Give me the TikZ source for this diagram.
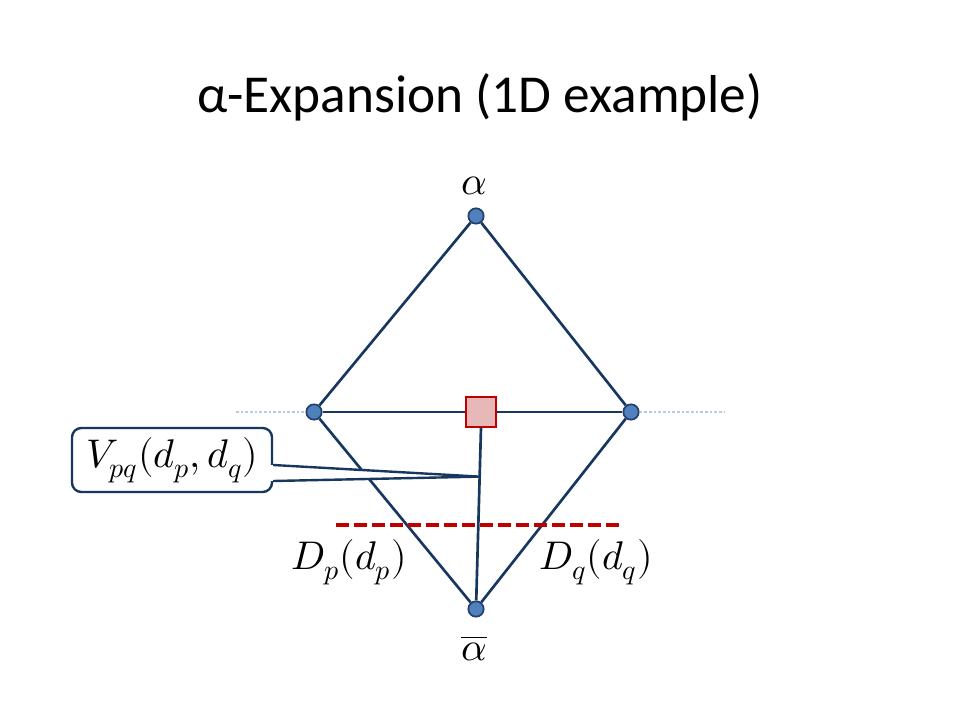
\documentclass[tikz,border=0pt]{standalone}
\usepackage{fontspec}
\usepackage{unicode-math}
\setmainfont{Carlito}
\setmathfont{Latin Modern Math}
\usetikzlibrary{calc}
\definecolor{nodefill}{RGB}{79,129,189}
\definecolor{nodeline}{RGB}{37,64,110}
\definecolor{edgecol}{RGB}{23,55,94}
\definecolor{sqfill}{RGB}{230,184,183}
\definecolor{cutred}{RGB}{192,0,0}
\definecolor{gridblue}{RGB}{184,204,228}
\begin{document}
\begin{tikzpicture}[x=0.75pt,y=-0.75pt,
					pixnode/.style={shape=circle, fill=nodefill, draw=nodeline, line width=1.3pt, inner sep=0, minimum size=11.5pt},
					pairnode/.style={shape=rectangle, fill=sqfill, draw=cutred, line width=1.5pt, inner sep=0, minimum size=22pt},
					link/.style={draw=edgecol, line width=2pt},
					mathlabel/.style={font=\fontsize{30}{34}\selectfont}
					]
	\useasboundingbox (0,0) rectangle (960,720); %page
	%title
	\node (title) at (480,97) {\fontsize{40}{46}\selectfont α-Expansion (1D example)};

	%nodes-----------------------------------------------
	\node[pixnode] (top) at (476,216) {}; %alpha node
	\node[pixnode] (p) at (314,412) {}; %pixel p
	\node[pixnode] (q) at (631,412) {}; %pixel q
	\node[pixnode] (bot) at (476,609) {}; %alpha bar node
	\node[pairnode] (pq) at (481,412) {}; %pair node

	%edges-----------------------------------------------
	\draw[link] (top) -- (p); %alpha - p
	\draw[link] (top) -- (q); %alpha - q
	\draw[link] (p) -- (pq); %p - pair
	\draw[link] (pq) -- (q); %pair - q
	\draw[link] (p) -- (bot); %p - alpha bar
	\draw[link] (q) -- (bot); %q - alpha bar
	\draw[link] (pq.south) -- (bot); %pair - alpha bar

	%neighbours
	\coordinate (lfar) at (236,412);
	\coordinate (rfar) at (725,412);
	\draw[gridblue, line width=1.5pt, dash pattern=on 2pt off 1.5pt] (lfar) -- (p); %left dots
	\draw[gridblue, line width=1.5pt, dash pattern=on 2pt off 1.5pt] (q) -- (rfar); %right dots

	%cut
	\coordinate (cutl) at (336,525);
	\coordinate (cutr) at (621,525);
	\draw[cutred, line width=3pt, dash pattern=on 9.5pt off 4pt] (cutl) -- (cutr); %cut line

	%labels-----------------------------------------------
	\node[mathlabel] (alab) at (474,186) {$\alpha$}; %alpha label
	\node[mathlabel] (ablab) at (474,648) {$\overline{\alpha}$}; %alpha bar label
	\node[mathlabel] (dplab) at (349,562) {$D_{p}(d_{p})$}; %Dp label
	\node[mathlabel] (dqlab) at (596,562) {$D_{q}(d_{q})$}; %Dq label

	%callout
	\node[draw=edgecol, line width=1.8pt, rounded corners=7pt, fill=white, minimum width=150pt, minimum height=48pt, mathlabel] (vlab) at (172,460) {$V_{pq}(d_{p},d_{q})$}; %Vpq label
	\coordinate (tip) at ($(pq.south)!0.27!(bot)$);
	\fill[white] ($(vlab.east)+(-3,5)$) -- (tip) -- ($(vlab.east)+(-3,21)$) -- cycle; %pointer gap
	\draw[edgecol, line width=1.8pt] ($(vlab.east)+(0,5)$) -- (tip) -- ($(vlab.east)+(0,21)$); %pointer
\end{tikzpicture}
\end{document}
